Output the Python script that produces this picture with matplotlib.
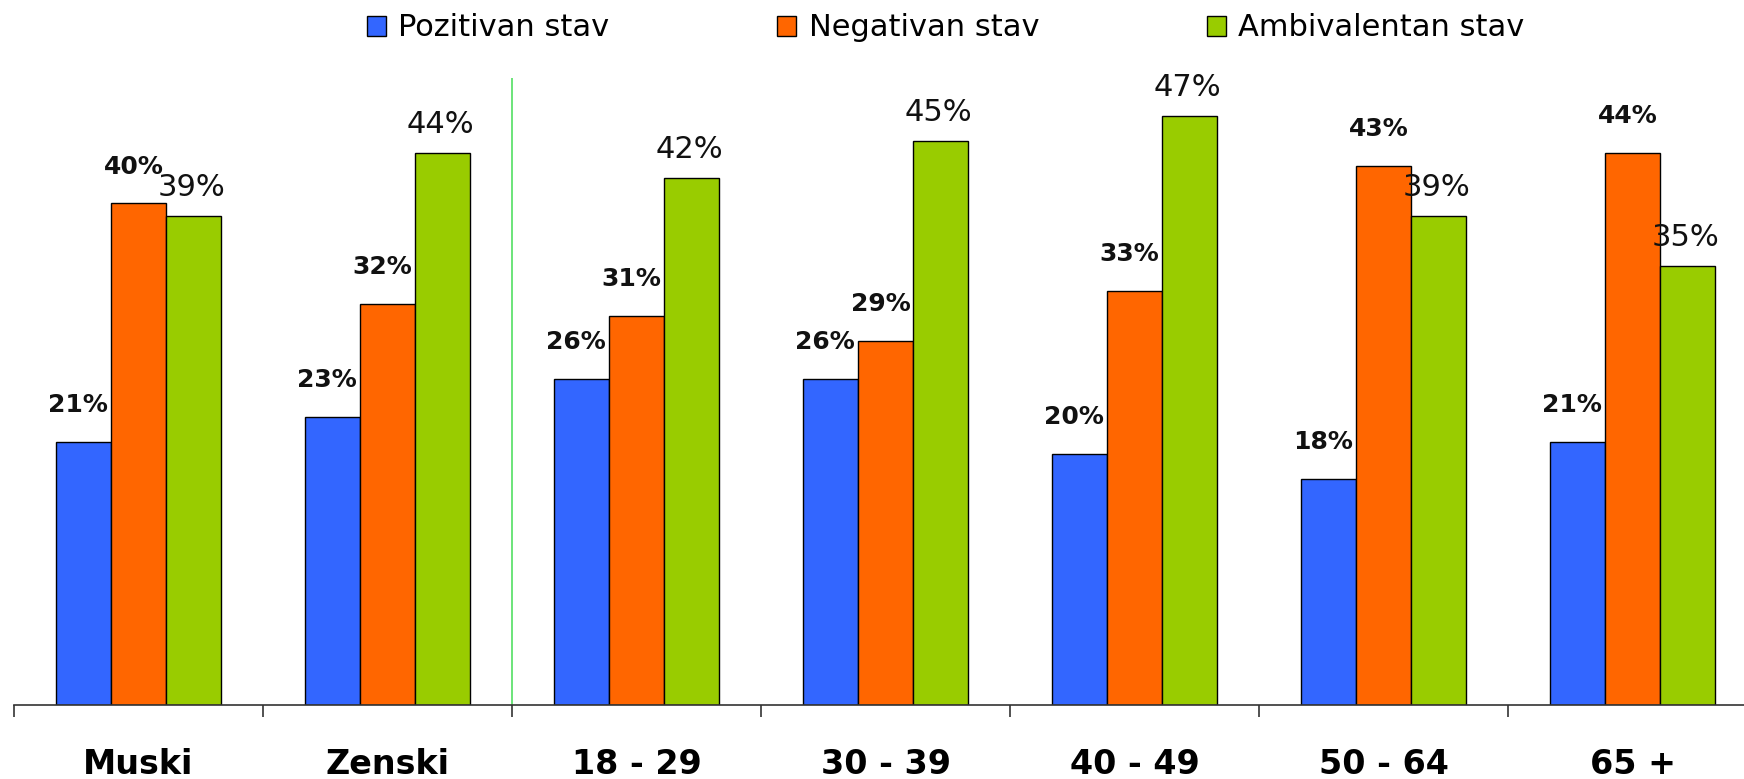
import numpy as np
import matplotlib
matplotlib.use("Agg")
import matplotlib.pyplot as plt

# podaci sa grafikona
grupe = ['Muski', 'Zenski', '18 - 29', '30 - 39', '40 - 49', '50 - 64', '65 +']
pozitivan = [21, 23, 26, 26, 20, 18, 21]
negativan = [40, 32, 31, 29, 33, 43, 44]
ambivalentan = [39, 44, 42, 45, 47, 39, 35]
serije = ['Pozitivan stav', 'Negativan stav', 'Ambivalentan stav']
boje = ['#3366FF', '#FF6600', '#99CC00']

plt.rcParams['font.family'] = ['DejaVu Sans']

fig = plt.figure(figsize=(17.44, 7.79), dpi=100)
ax = fig.add_axes([14 / 1744, 74 / 779, 1743 / 1744, 627 / 779])

x = np.arange(len(grupe)) + 0.5
w = 0.222
bars = []
for i, (vals, boja) in enumerate(zip([pozitivan, negativan, ambivalentan], boje)):
    b = ax.bar(x + (i - 1) * w, vals, width=w, color=boja,
               edgecolor='black', linewidth=1.0, label=serije[i])
    bars.append(b)
    for rect, v in zip(b, vals):
        cx = rect.get_x() + rect.get_width() / 2
        if i < 2:
            ax.annotate(f'{v}%', (cx, v), xytext=(-3.6, 21.5),
                        textcoords='offset points', ha='center', va='baseline',
                        fontsize=18, fontweight='bold', color='#111111')
        else:
            ax.annotate(f'{v}%', (cx, v), xytext=(-1.5, 14.4),
                        textcoords='offset points', ha='center', va='baseline',
                        fontsize=22, color='#111111')

# zelena linija izmedju pola i starosti
ax.axvline(2, color='#44DD55', linewidth=1.1)

ax.set_xlim(0, 7)
ax.set_ylim(0, 50)
ax.set_xticks(np.arange(0, 8))
ax.set_xticklabels([])
ax.set_xticks(x, minor=True)
ax.set_xticklabels(grupe, minor=True, fontsize=24, fontweight='bold')
ax.tick_params(axis='x', which='major', direction='out', length=8.5,
               width=1.2, color='#333333')
ax.tick_params(axis='x', which='minor', length=0, pad=31)
ax.set_yticks([])
for s in ['left', 'right', 'top']:
    ax.spines[s].set_visible(False)
ax.spines['bottom'].set_color('#333333')
ax.spines['bottom'].set_linewidth(1.2)

fig.legend(handles=bars, labels=serije, loc='center left',
           bbox_to_anchor=(367 / 1744, 1 - 28 / 779), ncol=3, frameon=False,
           fontsize=22, handlelength=0.62, handleheight=0.62,
           handletextpad=0.4, columnspacing=5.5, borderpad=0, borderaxespad=0)

fig.savefig('out.png', dpi=100)
